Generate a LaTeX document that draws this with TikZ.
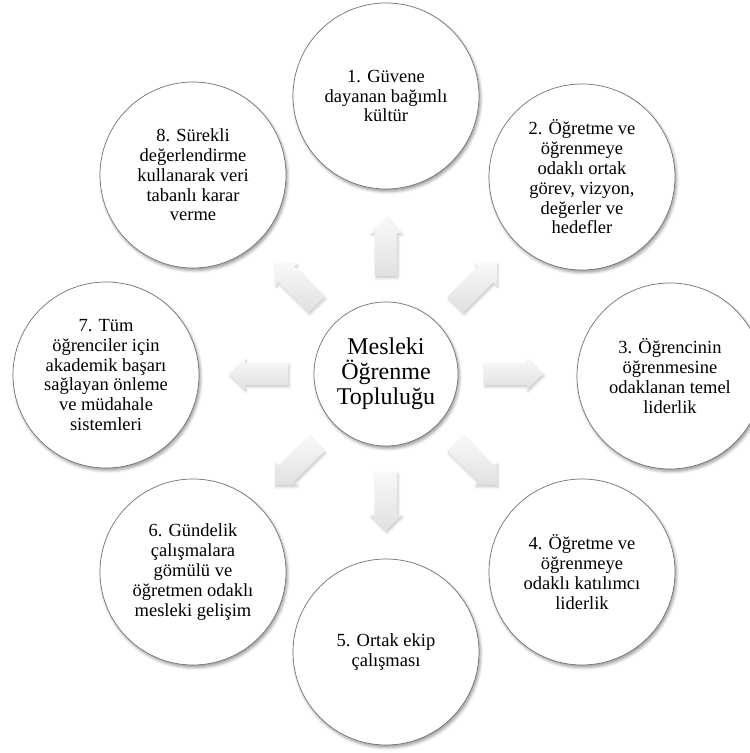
\documentclass[tikz,border=0pt]{standalone}
\usepackage{fontspec}
\setmainfont{Liberation Serif}
\usetikzlibrary{shadows.blur}
\begin{document}
\begin{tikzpicture}[x=1pt,y=1pt,
  roundbox/.style={circle, draw=black!55, line width=0.7pt, fill=white,
    inner sep=0pt, align=center,
    blur shadow={shadow xshift=1.5pt, shadow yshift=-2.5pt,
      shadow blur radius=3pt, shadow opacity=40}},
  outer/.style={roundbox, minimum size=186pt,
    font=\fontsize{18.5}{19.8}\selectfont},
  hub/.style={roundbox, minimum size=144pt,
    font=\fontsize{24}{25}\selectfont},
  arrowfill/.style={top color=gray!5, bottom color=gray!24,
    blur shadow={shadow xshift=1pt, shadow yshift=-2pt,
      shadow blur radius=2.5pt, shadow opacity=22}},
  pics/radarrow/.style={code={
    \path[arrowfill]
      ({#1+atan(11/98)}:{veclen(98,11)}) --
      ({#1+atan(11/141)}:{veclen(141,11)}) --
      ({#1+atan(15.5/141)}:{veclen(141,15.5)}) --
      (#1:157) --
      ({#1-atan(15.5/141)}:{veclen(141,15.5)}) --
      ({#1-atan(11/141)}:{veclen(141,11)}) --
      ({#1-atan(11/98)}:{veclen(98,11)}) -- cycle;
  }}]
\useasboundingbox (0,0) rectangle (750,753);

% central circle
\node[hub] (hub) at (386,379) {Mesleki\\Öğrenme\\Topluluğu};

% radiating arrows
\foreach \ang/\nm in {90/up,45/ur,0/rt,-45/dr,-90/dn,-135/dl,180/lt,135/ul}
  \pic (arr\nm) at (hub.center) {radarrow=\ang};

% surrounding circles
\node[outer] (c1) at (386,657) {1. Güvene\\dayanan bağımlı\\kültür};
\node[outer] (c2) at (582,576) {2. Öğretme ve\\öğrenmeye\\odaklı ortak\\görev, vizyon,\\değerler ve\\hedefler};
\node[outer] (c3) at (670,377) {3. Öğrencinin\\öğrenmesine\\odaklanan temel\\liderlik};
\node[outer] (c4) at (582,181) {4. Öğretme ve\\öğrenmeye\\odaklı katılımcı\\liderlik};
\node[outer] (c5) at (386,101) {5. Ortak ekip\\çalışması};
\node[outer] (c6) at (193,181) {6. Gündelik\\çalışmalara\\gömülü ve\\öğretmen odaklı\\mesleki gelişim};
\node[outer] (c7) at (106,378) {7. Tüm\\öğrenciler için\\akademik başarı\\sağlayan önleme\\ve müdahale\\sistemleri};
\node[outer] (c8) at (193,578) {8. Sürekli\\değerlendirme\\kullanarak veri\\tabanlı karar\\verme};
\end{tikzpicture}
\end{document}
